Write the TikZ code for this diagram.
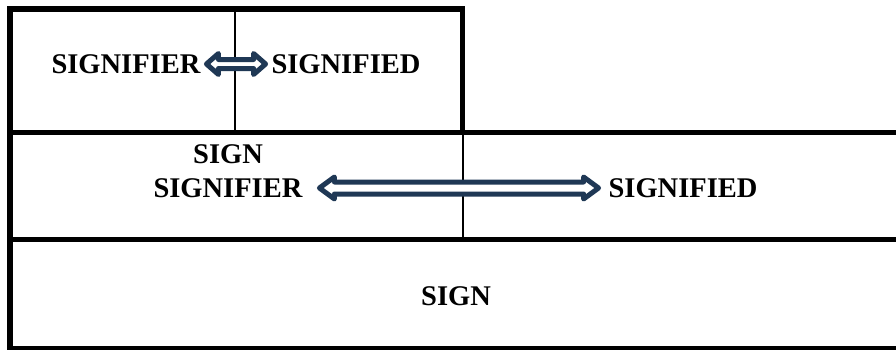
\documentclass[tikz,border=0pt]{standalone}
\usepackage{fontspec}
\setmainfont{Liberation Serif}
\usetikzlibrary{calc}
\definecolor{navy}{RGB}{31,56,85}
\tikzset{
  framerule/.style={line width=5.5pt},
  cellrule/.style={line width=2pt},
  lbl/.style={font=\fontsize{28.5}{34}\selectfont\bfseries, inner sep=0pt, outer sep=6pt, text depth=0pt},
  dblarr/.style={draw=navy, fill=white, line width=5pt, line join=round},
}
\newcommand\dblarrow[5]{%
  \draw[dblarr] let \p1=(#1), \p2=(#2), \n1={\x2-\x1-2*#5} in
    (\p1) -- ++(#5,#4) -- ++(0,#3-#4) -- ++(\n1,0) -- ++(0,#4-#3) -- ++(#5,-#4)
    -- ++(-#5,-#4) -- ++(0,#4-#3) -- ++(-\n1,0) -- ++(0,#3-#4) -- cycle;
}
\begin{document}
\begin{tikzpicture}[x=1pt,y=1pt]
  \clip (0,0) rectangle (896,349);
  \fill[white] (0,0) rectangle (896,349);
  % frame lines
  \draw[framerule] (10,-5) -- (10,340) -- (462.5,340) -- (462.5,216.5);
  \draw[framerule] (10,216.5) -- (905,216.5);
  \draw[framerule] (10,109.5) -- (905,109.5);
  \draw[framerule] (10,0) -- (905,0);
  % cell dividers
  \draw[cellrule] (235,340) -- (235,216.5);
  \draw[cellrule] (463,216.5) -- (463,109.5);
  % labels
  \node[lbl] (t1) at (126,285) {SIGNIFIER};
  \node[lbl] (t2) at (346,285) {SIGNIFIED};
  \node[lbl] (m0) at (228,195) {SIGN};
  \node[lbl] (m1) at (228,161) {SIGNIFIER};
  \node[lbl] (m2) at (683,161) {SIGNIFIED};
  \node[lbl] (b0) at (456,53) {SIGN};
  % arrows
  \dblarrow{t1.east}{t2.west}{4.5}{10.5}{12}
  \dblarrow{$(m1.east)+(11,0)$}{$(m2.west)+(-4,0)$}{6}{11}{15}
\end{tikzpicture}
\end{document}
